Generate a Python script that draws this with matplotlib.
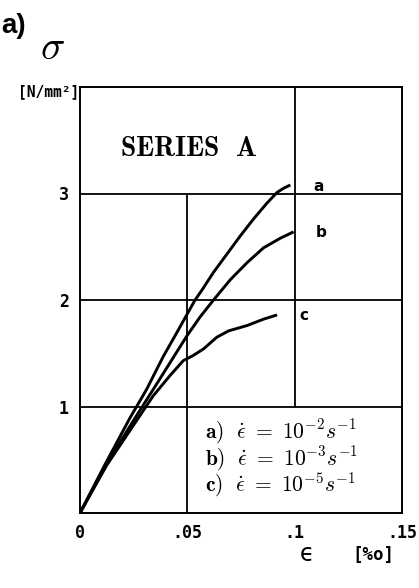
import matplotlib
matplotlib.use("Agg")
import matplotlib.pyplot as plt

plt.rcParams["mathtext.fontset"] = "cm"

# stress-strain curves, strain in per mille, stress in N/mm^2
strain_a = [0.0, 0.0115, 0.0232, 0.031, 0.0388, 0.045, 0.0497, 0.0536, 0.0567,
            0.0622, 0.0684, 0.0746, 0.0808, 0.0871, 0.0918, 0.0949, 0.098]
stress_a = [0.0, 0.45, 0.89, 1.16, 1.47, 1.69, 1.86, 2.0, 2.09,
            2.26, 2.43, 2.60, 2.76, 2.91, 3.01, 3.05, 3.08]

strain_b = [0.0, 0.012, 0.0256, 0.0341, 0.0419, 0.0497, 0.0559, 0.0622, 0.07,
            0.0778, 0.0855, 0.0933, 0.0995]
stress_b = [0.0, 0.45, 0.89, 1.16, 1.41, 1.66, 1.84, 2.0, 2.19,
            2.35, 2.49, 2.58, 2.64]

strain_c = [0.0, 0.0125, 0.0271, 0.0341, 0.0419, 0.0481, 0.0528, 0.0575, 0.0637,
            0.0692, 0.0778, 0.0855, 0.0918]
stress_c = [0.0, 0.45, 0.89, 1.10, 1.29, 1.43, 1.48, 1.54, 1.65,
            1.71, 1.76, 1.82, 1.86]

curve_names = ["a", "b", "c"]
rate_exponents = [-2, -3, -5]

x_ticks = [0, 0.05, 0.1, 0.15]
x_ticklabels = ["0", ".05", ".1", ".15"]
y_ticks = [1, 2, 3]
y_ticklabels = ["1", "2", "3"]

mono = dict(family="DejaVu Sans Mono", weight="bold")

fig = plt.figure(figsize=(4.19, 5.88), dpi=100)
ax = fig.add_axes([80 / 419, 75 / 588, 322 / 419, 426 / 588])
ax.set_xlim(0, 0.15)
ax.set_ylim(0, 4)

for s in ax.spines.values():
    s.set_linewidth(1.4)

# grid, leaving out the cells that hold the title and the rate box
ax.hlines(y_ticks, 0, 0.15, color="black", lw=1.3)
ax.vlines(0.05, 0, 3, color="black", lw=1.3)
ax.vlines(0.1, 1, 4, color="black", lw=1.3)

for xs, ys in [(strain_a, stress_a), (strain_b, stress_b), (strain_c, stress_c)]:
    ax.plot(xs, ys, color="black", lw=2.1, solid_joinstyle="round",
            solid_capstyle="butt")

for name, xs, ys in zip(curve_names, [strain_a, strain_b, strain_c],
                        [stress_a, stress_b, stress_c]):
    ax.text(xs[-1] + 0.0105, ys[-1] - 0.01, name, ha="left", va="center",
            fontsize=11, fontweight="bold", family="DejaVu Sans")

ax.text(0.0505, 3.43, r"$\mathbf{SERIES\ \ A}$", ha="center", va="center", fontsize=20)

for i, (name, e) in enumerate(zip(curve_names, rate_exponents)):
    ax.text(0.058, 0.76 - i * 0.247,
            r"$\mathbf{%s)}\ \ \dot{\epsilon}\ =\ 10^{%d}s^{-1}$" % (name, e),
            ha="left", va="center", fontsize=15.5)

ax.set_xticks(x_ticks)
ax.set_xticklabels(x_ticklabels, **mono, fontsize=12)
ax.set_yticks(y_ticks)
ax.set_yticklabels(y_ticklabels, **mono, fontsize=12)
ax.tick_params(length=0, pad=8)

fig.text(0.004, 0.944, "a)", ha="left", va="baseline",
         family="Liberation Sans", weight="bold", fontsize=20)
fig.text(0.126, 0.918, r"$\sigma$", ha="center", va="center", fontsize=29)
fig.text(0.188, 0.8435, "[N/mm²]", ha="right", va="center", **mono, fontsize=10.5)
fig.text(0.733, 0.057, "ϵ", ha="center", va="center",
         family="DejaVu Sans", fontsize=17)
fig.text(0.892, 0.057, "[%o]", ha="center", va="center", **mono, fontsize=12.5)

fig.savefig("out.png", dpi=100)
